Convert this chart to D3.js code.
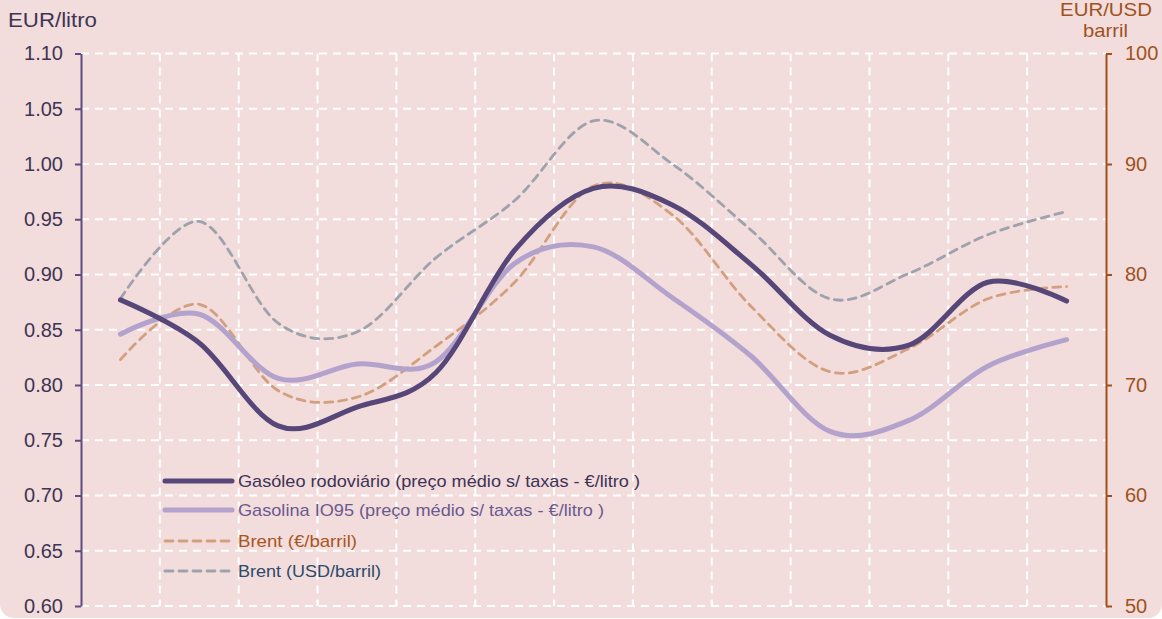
<!DOCTYPE html>
<html><head><meta charset="utf-8">
<script src="https://cdn.jsdelivr.net/npm/d3@7"></script>
<style>
html,body{margin:0;padding:0;background:#fff;}
svg{display:block;font-family:"Liberation Sans",Arial,sans-serif;}
</style></head>
<body>
<svg id="chart" width="1162" height="619"></svg>
<script>
// ---- data ----
const periods = ["P1","P2","P3","P4","P5","P6","P7","P8","P9","P10","P11","P12","P13"];
const gasoleo  = [0.877,0.838,0.763,0.780,0.811,0.922,0.978,0.963,0.909,0.845,0.836,0.893,0.876];
const gasolina = [0.846,0.864,0.806,0.819,0.821,0.910,0.925,0.879,0.826,0.758,0.768,0.817,0.841];
const brentEur = [72.3,77.3,69.5,68.9,73.5,79.3,88.0,85.4,77.1,71.2,73.3,77.8,78.9];
const brentUsd = [77.8,84.8,75.6,74.8,81.5,86.7,93.9,90.0,84.0,77.8,80.1,83.6,85.7];
const leftTicks  = [0.60,0.65,0.70,0.75,0.80,0.85,0.90,0.95,1.00,1.05,1.10];
const rightTicks = [50,60,70,80,90,100];
const legendLabels = [
  "Gasóleo rodoviário (preço médio s/ taxas - €/litro )",
  "Gasolina IO95 (preço médio s/ taxas - €/litro )",
  "Brent (€/barril)",
  "Brent (USD/barril)"
];

const svg = d3.select("#chart");
const W = 1162, H = 619;
const m = {left:81, right:1106, top:53.5, bottom:606};

// background panel
svg.append("rect").attr("x",0).attr("y",-30).attr("width",W).attr("height",H+30-1)
  .attr("rx",14).attr("fill","#f2dcdc");

const x = d3.scaleBand().domain(periods).range([m.left,m.right]).padding(0);
const yL = d3.scaleLinear().domain([0.60,1.10]).range([m.bottom,m.top]);
const yR = d3.scaleLinear().domain([50,100]).range([m.bottom,m.top]);
const cx = d => x(d) + x.bandwidth()/2;

// gridlines
const grid = svg.append("g");
grid.selectAll("line.h").data(leftTicks).enter().append("line")
  .attr("x1",m.left).attr("x2",m.right).attr("y1",d=>yL(d)).attr("y2",d=>yL(d))
  .attr("stroke","#fff").attr("stroke-width",2).attr("stroke-dasharray","8,6");
const vb = periods.slice(1).map(p=>x(p));
grid.selectAll("line.v").data(vb).enter().append("line")
  .attr("x1",d=>d).attr("x2",d=>d).attr("y1",m.top).attr("y2",m.bottom)
  .attr("stroke","#fff").attr("stroke-width",2).attr("stroke-dasharray","8,6");
grid.selectAll("line.t").data(vb).enter().append("line")
  .attr("x1",d=>d).attr("x2",d=>d).attr("y1",m.bottom-6).attr("y2",m.bottom)
  .attr("stroke","#fff").attr("stroke-width",2);

// axes
const axL = svg.append("g").attr("transform",`translate(${m.left},0)`)
  .call(d3.axisLeft(yL).tickValues(leftTicks).tickFormat(d3.format(".2f")).tickSize(6).tickSizeOuter(0).tickPadding(12));
axL.select(".domain").attr("stroke","#5f4b80").attr("stroke-width",2);
axL.selectAll(".tick line").attr("stroke","#5f4b80").attr("stroke-width",2);
axL.selectAll(".tick text").attr("fill","#3d3553").attr("font-size",20).attr("font-family","Liberation Sans, Arial, sans-serif");

const axR = svg.append("g").attr("transform",`translate(${m.right},0)`)
  .call(d3.axisRight(yR).tickValues(rightTicks).tickSize(6).tickSizeOuter(0).tickPadding(13));
axR.select(".domain").attr("stroke","#a0501a").attr("stroke-width",2);
axR.selectAll(".tick line").attr("stroke","#a0501a").attr("stroke-width",2);
axR.selectAll(".tick text").attr("fill","#a0521c").attr("font-size",20).attr("font-family","Liberation Sans, Arial, sans-serif");

// axis titles
svg.append("text").attr("x",8).attr("y",27).attr("font-size",19.5).attr("fill","#3d3553")
  .attr("textLength",89).attr("lengthAdjust","spacingAndGlyphs").text("EUR/litro");
svg.append("text").attr("x",1060).attr("y",16).attr("font-size",18.5).attr("fill","#a0521c")
  .attr("textLength",92).attr("lengthAdjust","spacingAndGlyphs").text("EUR/USD");
svg.append("text").attr("x",1083).attr("y",37).attr("font-size",19).attr("fill","#a0521c")
  .attr("textLength",45).attr("lengthAdjust","spacingAndGlyphs").text("barril");

// lines
const curve = d3.curveCardinal.tension(0);
const lineL = d3.line().x((d,i)=>cx(periods[i])).y(d=>yL(d)).curve(curve);
const lineR = d3.line().x((d,i)=>cx(periods[i])).y(d=>yR(d)).curve(curve);

const series = [
  {data:brentUsd, gen:lineR, color:"#9ea2ad", w:2.8, dash:"8,6"},
  {data:brentEur, gen:lineR, color:"#d3a07f", w:2.8, dash:"8,6"},
  {data:gasolina, gen:lineL, color:"#b3a2cb", w:5, dash:null},
  {data:gasoleo,  gen:lineL, color:"#574779", w:5, dash:null}
];
series.forEach(s=>{
  svg.append("path").attr("d",s.gen(s.data)).attr("fill","none")
    .attr("stroke",s.color).attr("stroke-width",s.w).attr("stroke-linecap","round")
    .attr("stroke-dasharray",s.dash);
});

// legend
const leg = [
  {label:legendLabels[0], color:"#574779", w:5, dash:null, tc:"#3e3356", len:402},
  {label:legendLabels[1], color:"#b3a2cb", w:5, dash:null, tc:"#6a5a90", len:366},
  {label:legendLabels[2], color:"#d3a07f", w:2.8, dash:"8,6", tc:"#a8561e", len:119},
  {label:legendLabels[3], color:"#9ea2ad", w:2.8, dash:"8,6", tc:"#2c4a6a", len:143}
];
const ly = [481,510,541,571];
leg.forEach((l,i)=>{
  svg.append("line").attr("x1",165).attr("x2",232).attr("y1",ly[i]).attr("y2",ly[i])
    .attr("stroke",l.color).attr("stroke-width",l.w).attr("stroke-linecap","round").attr("stroke-dasharray",l.dash);
  svg.append("text").attr("x",238).attr("y",ly[i]+6).attr("font-size",17).attr("fill",l.tc)
    .attr("textLength",l.len).attr("lengthAdjust","spacingAndGlyphs").text(l.label);
});
</script>
</body></html>
